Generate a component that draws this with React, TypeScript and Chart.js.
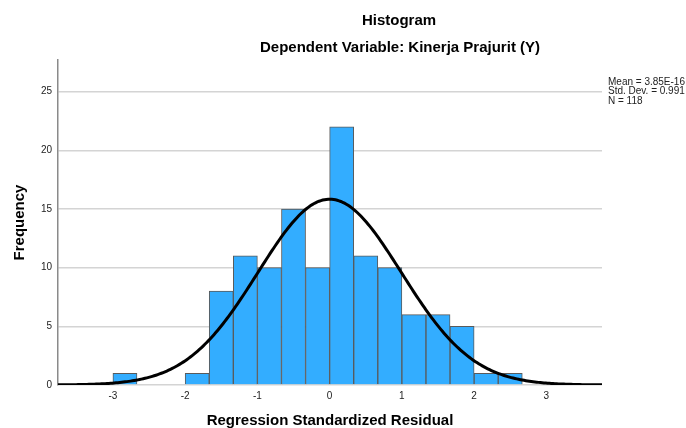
import React, { useEffect, useRef } from "react";
import { Chart, registerables } from "chart.js";

Chart.register(...registerables);

// Histogram bins (left edge of each bin, width 1/3) and counts
const BIN_WIDTH = 1 / 3;
const BIN_STARTS = [-3, -8 / 3, -7 / 3, -2, -5 / 3, -4 / 3, -1, -2 / 3, -1 / 3, 0, 1 / 3, 2 / 3, 1, 4 / 3, 5 / 3, 2, 7 / 3];
const COUNTS = [1, 0, 0, 1, 8, 11, 10, 15, 10, 22, 11, 10, 6, 6, 5, 1, 1];

// Summary statistics shown in the legend
const MEAN = 3.85e-16;
const STD_DEV = 0.991;
const N = 118;
const STATS_LABELS = ["Mean = 3.85E-16", "Std. Dev. = 0.991", "N = 118"];

const TITLE = "Histogram";
const SUBTITLE = "Dependent Variable: Kinerja Prajurit (Y)";
const X_TITLE = "Regression Standardized Residual";
const Y_TITLE = "Frequency";

const X_MIN = -3.76;
const X_MAX = 3.77;
const Y_MAX = 27.7;

const FONT = "'Liberation Sans', Arial, sans-serif";

export default function App() {
  const ref = useRef<HTMLCanvasElement | null>(null);

  useEffect(() => {
    document.body.style.margin = "0";
    const canvas = ref.current;
    if (!canvas) return;

    const barData = BIN_STARTS.map((s, i) => ({ x: s + BIN_WIDTH / 2, y: COUNTS[i] }));
    const curve: { x: number; y: number }[] = [];
    const steps = 300;
    for (let i = 0; i <= steps; i++) {
      const x = X_MIN + ((X_MAX - X_MIN) * i) / steps;
      const z = (x - MEAN) / STD_DEV;
      const y = (N * BIN_WIDTH * Math.exp(-0.5 * z * z)) / (STD_DEV * Math.sqrt(2 * Math.PI));
      curve.push({ x, y });
    }

    const textPlugin = {
      id: "spssText",
      afterDraw(chart: any) {
        const ctx = chart.ctx;
        ctx.save();
        ctx.fillStyle = "#000";
        ctx.textAlign = "center";
        ctx.textBaseline = "middle";
        ctx.font = `bold 15px ${FONT}`;
        ctx.fillText(TITLE, 399, 21);
        ctx.fillText(SUBTITLE, 400, 48);
        ctx.textAlign = "left";
        ctx.font = `10px ${FONT}`;
        ctx.fillStyle = "#222";
        STATS_LABELS.forEach((t, i) => ctx.fillText(t, 608, 82 + i * 9.5));
        ctx.restore();
      },
    };

    const chart = new Chart(canvas, {
      type: "bar",
      data: {
        datasets: [
          {
            type: "line",
            data: curve,
            borderColor: "#000",
            borderWidth: 3,
            pointRadius: 0,
            fill: false,
            tension: 0,
            order: 0,
          } as any,
          {
            type: "bar",
            data: barData,
            backgroundColor: "#33adff",
            borderColor: "#5a5a5a",
            borderWidth: 1,
            barPercentage: 1,
            categoryPercentage: 1,
            order: 1,
          } as any,
        ],
      },
      options: {
        animation: false,
        responsive: false,
        layout: { padding: { top: 60, right: 84, left: 0, bottom: 0 } },
        plugins: { legend: { display: false }, tooltip: { enabled: false } },
        scales: {
          x: {
            type: "linear",
            min: X_MIN,
            max: X_MAX,
            offset: false,
            grid: { display: false, drawTicks: false },
            border: { display: false },
            ticks: {
              stepSize: 1,
              includeBounds: false,
              padding: 5,
              color: "#222",
              font: { family: FONT, size: 10 },
            },
            title: {
              display: true,
              text: X_TITLE,
              color: "#000",
              font: { family: FONT, size: 15, weight: "bold" },
              padding: { top: 0, bottom: -2 },
            },
            afterFit(scale: any) {
              scale.height = 43;
            },
          },
          y: {
            type: "linear",
            min: 0,
            max: Y_MAX,
            grid: { color: "#d4d4d4", lineWidth: 1.5, drawTicks: false },
            border: { display: true, color: "#8a8a8a", width: 1.5 },
            ticks: {
              stepSize: 5,
              includeBounds: false,
              padding: 6,
              color: "#222",
              font: { family: FONT, size: 10 },
            },
            title: {
              display: true,
              text: Y_TITLE,
              color: "#000",
              font: { family: FONT, size: 15, weight: "bold" },
              padding: { top: 11, bottom: 0 },
            },
            afterFit(scale: any) {
              scale.width = 58;
            },
          },
        },
      },
      plugins: [textPlugin],
    });

    return () => chart.destroy();
  }, []);

  return (
    <div style={{ width: 686, height: 428 }}>
      <canvas ref={ref} width={686} height={428} style={{ display: "block" }} />
    </div>
  );
}
